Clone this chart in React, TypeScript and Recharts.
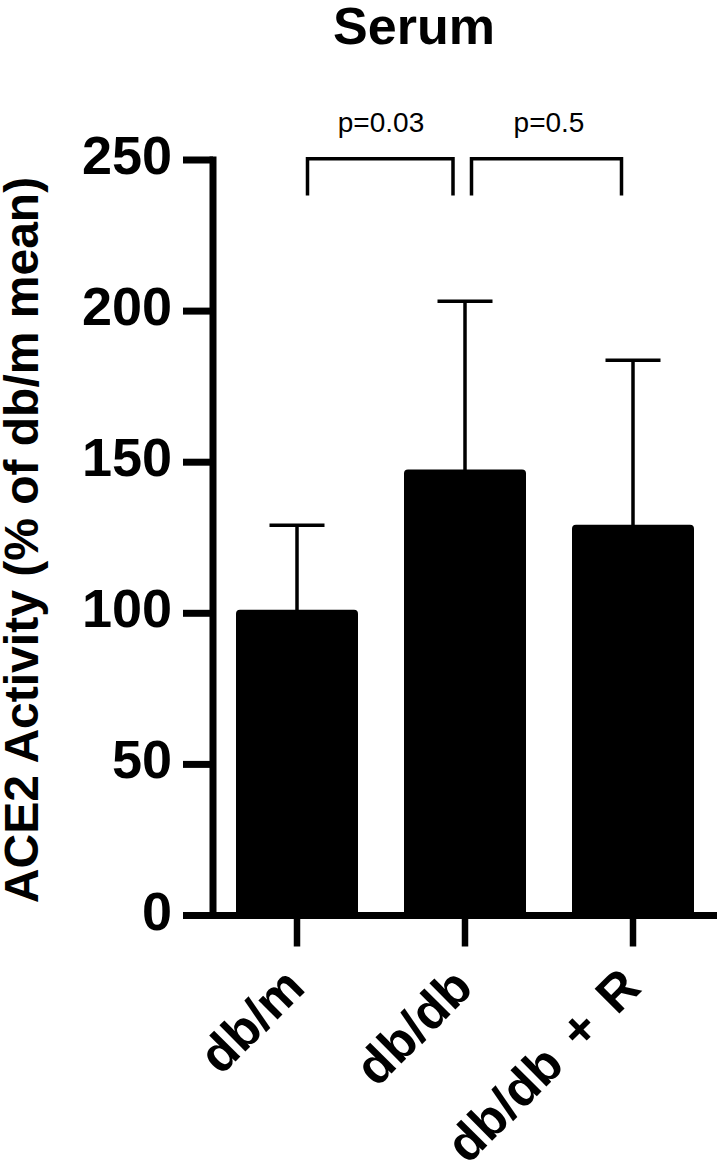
import { Bar, BarChart, ErrorBar, ReferenceLine, XAxis, YAxis } from "recharts";

const groups = ["db/m", "db/db", "db/db + R"];
const means = [101.2, 147.6, 129.3];
const sem = [27.9, 55.7, 54.4];
const yTicks = [0, 50, 100, 150, 200, 250];

// comparison brackets: which bars they join, and the p value printed above
const bracketFrom = [0, 1];
const bracketTo = [1, 2];
const pLabels = ["p=0.03", "p=0.5"];
const bracketTop = 250.4;
const bracketFoot = 238.8;

const FONT = '"Liberation Sans", Arial, sans-serif';

// one-sided (upper) error bars; the short lower part stays hidden inside the bar
const data = groups.map((g, i) => ({ group: g, mean: means[i], err: [3, sem[i]] }));

const legInset = [
  [10.5, 12],
  [6.5, 11.5],
];

const YTick = (props: any) => {
  const { x, y, payload } = props;
  return (
    <text x={x} y={y} dy={14} textAnchor="end" fontFamily={FONT} fontWeight="bold" fontSize={54} fill="#000">
      {payload.value}
    </text>
  );
};

const XTick = (props: any) => {
  const { x, payload } = props;
  const tx = x + 10;
  const ty = 990;
  return (
    <text
      x={tx}
      y={ty}
      transform={`rotate(-45, ${tx}, ${ty})`}
      textAnchor="end"
      fontFamily={FONT}
      fontWeight="bold"
      fontSize={51}
      style={{ wordSpacing: 7 }}
      fill="#000"
    >
      {payload.value}
    </text>
  );
};

const bracketShape = (i: number) => (props: any) => {
  const { x1, y1, x2, y2 } = props;
  const left = Math.min(x1, x2) + legInset[i][0];
  const right = Math.max(x1, x2) - legInset[i][1];
  const top = Math.min(y1, y2);
  const foot = Math.max(y1, y2);
  return (
    <path
      d={`M${left},${foot} L${left},${top} L${right},${top} L${right},${foot}`}
      fill="none"
      stroke="#000"
      strokeWidth={3.5}
      strokeLinecap="square"
      strokeLinejoin="miter"
    />
  );
};

export default function App() {
  return (
    <div style={{ position: "absolute", left: 0, top: 0, width: 724, height: 1171, background: "#fff" }}>
      <BarChart width={724} height={1171} data={data} margin={{ top: 160, right: 7, bottom: 0, left: 0 }}>
        <XAxis
          dataKey="group"
          height={255.5}
          tickSize={31}
          tickLine={{ stroke: "#000", strokeWidth: 6.5 }}
          axisLine={{ stroke: "#000", strokeWidth: 7 }}
          tick={<XTick />}
          interval={0}
        />
        <YAxis
          width={213}
          domain={[0, 250]}
          ticks={yTicks}
          tickSize={30}
          tickMargin={11}
          tickLine={{ stroke: "#000", strokeWidth: 7 }}
          axisLine={{ stroke: "#000", strokeWidth: 7, strokeLinecap: "square" }}
          tick={<YTick />}
          interval={0}
        />
        <Bar dataKey="mean" fill="#000" barSize={122} radius={[4, 4, 0, 0]} isAnimationActive={false}>
          <ErrorBar dataKey="err" width={27.5} stroke="#000" strokeWidth={3.5} isAnimationActive={false} />
        </Bar>
        {bracketFrom.map((a, i) => (
          <ReferenceLine
            key={`b${i}`}
            ifOverflow="visible"
            stroke="#000"
            segment={[
              { x: groups[a], y: bracketFoot },
              { x: groups[bracketTo[i]], y: bracketTop },
            ]}
            shape={bracketShape(i)}
            label={{ value: pLabels[i], position: "top", offset: 26.5, fill: "#000", fontSize: 28, fontFamily: FONT }}
          />
        ))}
      </BarChart>
      <svg width={724} height={1171} style={{ position: "absolute", left: 0, top: 0, pointerEvents: "none" }}>
        <text x={414} y={44} textAnchor="middle" fontFamily={FONT} fontWeight="bold" fontSize={52} fill="#000">
          Serum
        </text>
        <text
          x={38}
          y={540}
          transform="rotate(-90, 38, 540)"
          textAnchor="middle"
          fontFamily={FONT}
          fontWeight="bold"
          fontSize={48}
          fill="#000"
        >
          ACE2 Activity (% of db/m mean)
        </text>
      </svg>
    </div>
  );
}
